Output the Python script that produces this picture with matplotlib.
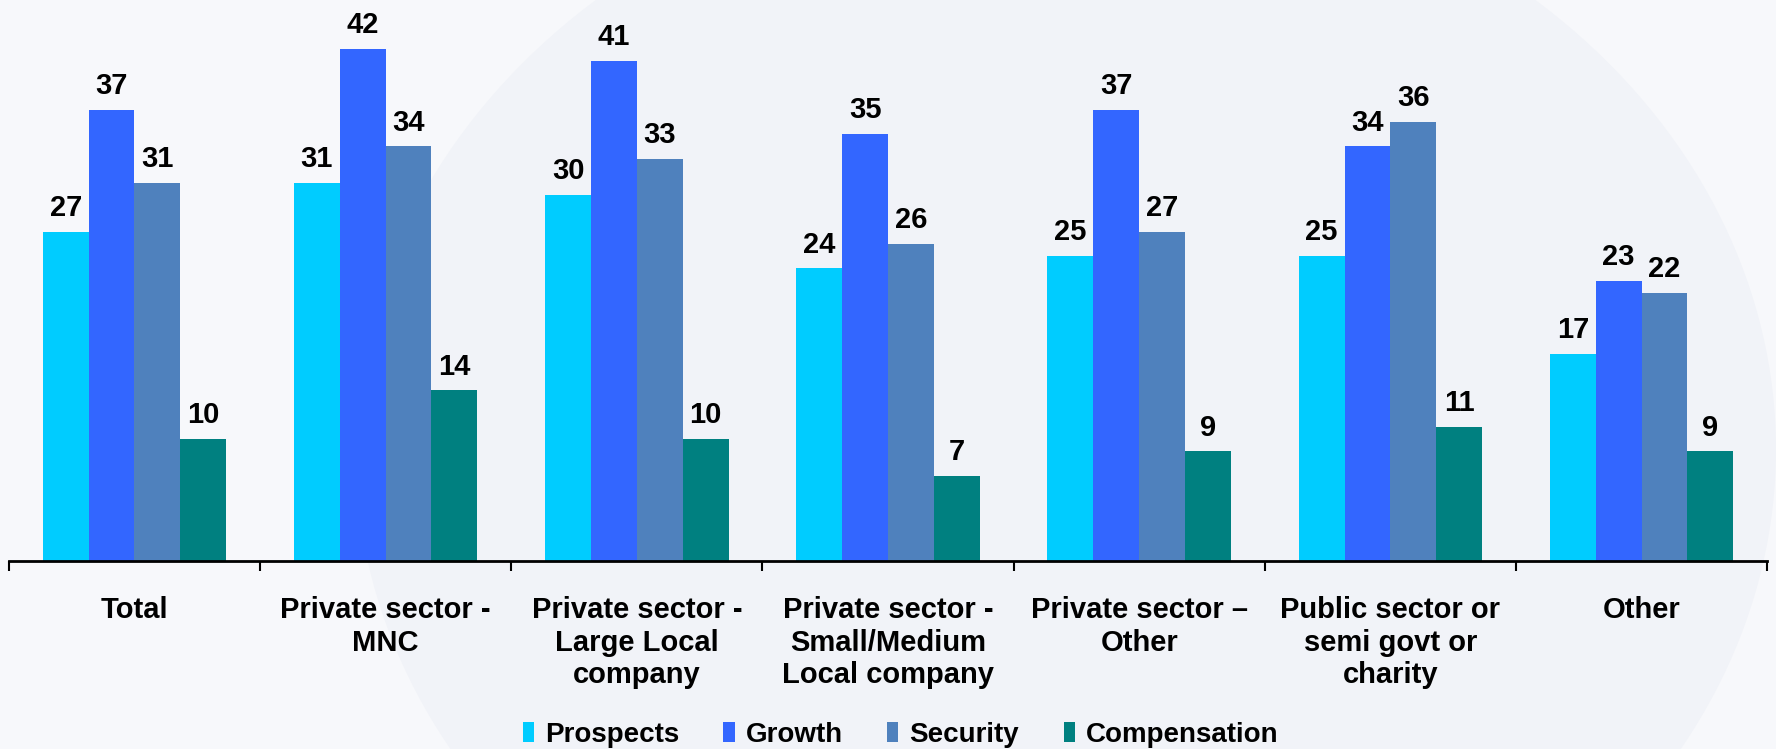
import matplotlib.pyplot as plt
import matplotlib.patches as mpatches
import numpy as np

# survey data: share citing each factor, by employer type
categories = ["Total", "Private sector -\nMNC", "Private sector -\nLarge Local\ncompany",
              "Private sector -\nSmall/Medium\nLocal company", "Private sector \u2013\nOther",
              "Public sector or\nsemi govt or\ncharity", "Other"]
prospects = [27, 31, 30, 24, 25, 25, 17]
growth = [37, 42, 41, 35, 37, 34, 23]
security = [31, 34, 33, 26, 27, 36, 22]
compensation = [10, 14, 10, 7, 9, 11, 9]

series = [("Prospects", prospects, "#00CCFF"),
          ("Growth", growth, "#3366FF"),
          ("Security", security, "#4F81BD"),
          ("Compensation", compensation, "#008080")]

plt.rcParams["font.family"] = ["Liberation Sans", "DejaVu Sans"]

fig = plt.figure(figsize=(17.76, 7.49), dpi=100)
fig.patch.set_facecolor("#f7f8fb")

# faint round shape in the backdrop
fig.patches.append(mpatches.Ellipse((0.60, 0.40), 0.80, 1.60, transform=fig.transFigure,
                                    facecolor="#f1f3f8", edgecolor="none", zorder=-5))

ax = fig.add_axes([0.005, 0.251, 0.99, 0.749])
ax.set_facecolor("none")
ax.set_zorder(1)

x = np.arange(len(categories))
width = 0.1825

for i, (name, vals, color) in enumerate(series):
    pos = x + (i - 1.5) * width
    bars = ax.bar(pos, vals, width, color=color, label=name, edgecolor="none", zorder=2)
    for b, v in zip(bars, vals):
        ax.annotate(str(v), (b.get_x() + b.get_width() / 2, v), xytext=(0, 7),
                    textcoords="offset points", ha="center", va="bottom",
                    fontsize=21, fontweight="bold", color="black")

ax.set_xlim(-0.5, len(categories) - 0.5)
ax.set_ylim(0, 46)

for side in ["top", "right", "left"]:
    ax.spines[side].set_visible(False)
ax.spines["bottom"].set_linewidth(2)
ax.spines["bottom"].set_color("black")
ax.set_yticks([])

# boundary ticks between groups, labels at group centres
ax.set_xticks(np.arange(len(categories) + 1) - 0.5)
ax.set_xticklabels([])
ax.tick_params(axis="x", which="major", length=7, width=1.5, color="black")
ax.set_xticks(x, minor=True)
ax.set_xticklabels(categories, minor=True, fontsize=21, fontweight="bold",
                   linespacing=1.22)
ax.tick_params(axis="x", which="minor", length=0, pad=25)

leg = fig.legend(loc="lower center", bbox_to_anchor=(0.507, -0.032), ncol=4, frameon=False,
                 prop={"family": ["Liberation Sans Narrow", "Liberation Sans"],
                       "weight": "bold", "size": 20},
                 handlelength=0.4, handleheight=0.75, handletextpad=0.4, columnspacing=1.6)

fig.savefig("out.png", dpi=100, facecolor=fig.get_facecolor())
